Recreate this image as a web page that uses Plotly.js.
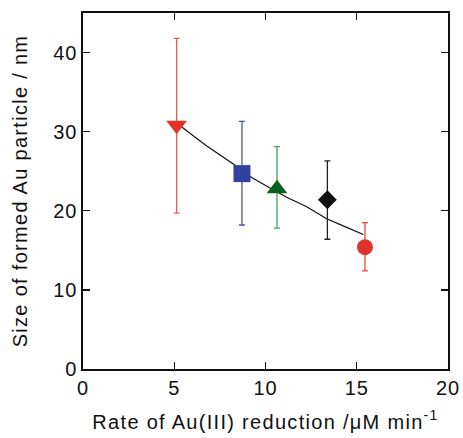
<!DOCTYPE html>
<html>
<head>
<meta charset="utf-8">
<script src="https://cdn.plot.ly/plotly-3.0.1.min.js"></script>
<style>
html,body{margin:0;padding:0;background:#fff;}
#chart{width:463px;height:438px;}
#chart .xtitle, #chart .ytitle{letter-spacing:1.3px;}
#chart .xtick text, #chart .ytick text{letter-spacing:1px;}
</style>
</head>
<body>
<div id="chart"></div>
<script>
// Data points (rate of Au(III) reduction, particle size, error bar ends)
const rates = [5.13, 8.71, 10.63, 13.39, 15.45];
const sizes = [30.8, 24.7, 22.8, 21.4, 15.4];
const errPlus = [11.0, 6.6, 5.3, 4.9, 3.1];
const errMinus = [11.1, 6.5, 5.0, 5.0, 3.0];
const symbols = ['triangle-down', 'square', 'triangle-up', 'diamond', 'circle'];
const markerColors = ['#e03424', '#3440a0', '#0b6120', '#111111', '#e0322a'];
const errColors = ['#ec5a4e', '#4a52b0', '#4f9a62', '#222222', '#e8463a'];
const markerSizes = [18, 17, 18, 14.5, 16];

// Fitted curve
const fitX = [5.41, 6.78, 8.24, 9.24, 10.15, 11.16, 12.26, 13.35, 14.45, 15.36];
const fitY = [30.6, 28.2, 25.9, 24.2, 23.0, 21.7, 20.5, 19.0, 17.9, 17.0];

const xTicks = [0, 5, 10, 15, 20];
const yTicks = [0, 10, 20, 30, 40];

const traces = [{
  x: fitX, y: fitY, mode: 'lines', type: 'scatter',
  line: {color: '#111', width: 1.2}, hoverinfo: 'skip', showlegend: false
}];
for (let i = 0; i < rates.length; i++) {
  traces.push({
    x: [rates[i]], y: [sizes[i]], type: 'scatter', mode: 'markers', showlegend: false,
    marker: {symbol: symbols[i], size: markerSizes[i], color: markerColors[i], line: {width: 0}},
    error_y: {type: 'data', symmetric: false, array: [errPlus[i]], arrayminus: [errMinus[i]],
      color: errColors[i], thickness: 1.3, width: 3}
  });
}

const font = {family: 'Liberation Sans, Arial, sans-serif', size: 20, color: '#111'};
const layout = {
  width: 463, height: 438,
  margin: {l: 83, r: 15, t: 13, b: 69},
  paper_bgcolor: '#fff', plot_bgcolor: '#fff',
  font: font,
  showlegend: false,
  xaxis: {
    range: [0, 20], tickvals: xTicks, ticktext: xTicks.map(String),
    ticks: 'inside', ticklen: 7, tickwidth: 1.3, tickcolor: '#111',
    showline: true, linecolor: '#111', linewidth: 1.6, mirror: 'ticks',
    showgrid: false, zeroline: false, automargin: false,
    tickfont: font,
    title: {text: 'Rate of Au(III) reduction /\u03bcM min<sup>-1</sup>', font: font, standoff: 17}
  },
  yaxis: {
    range: [0, 45], tickvals: yTicks, ticktext: yTicks.map(String),
    ticks: 'inside', ticklen: 7, tickwidth: 1.3, tickcolor: '#111',
    showline: true, linecolor: '#111', linewidth: 1.6, mirror: 'ticks',
    showgrid: false, zeroline: false, automargin: false,
    tickfont: font,
    title: {text: 'Size of formed Au particle / nm', font: font, standoff: 22}
  }
};
Plotly.newPlot('chart', traces, layout, {displayModeBar: false, staticPlot: true});
</script>
</body>
</html>
